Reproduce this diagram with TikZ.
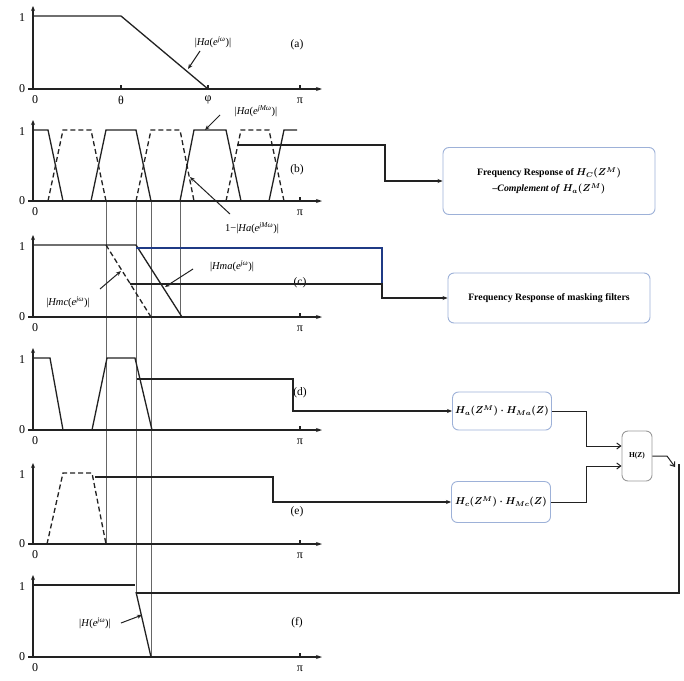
\documentclass[tikz,border=0pt]{standalone}
\usepackage{fontspec}
\setmainfont{Liberation Serif}
\usetikzlibrary{arrows.meta}
\definecolor{boxblue}{HTML}{9DB1D8}
\definecolor{lineblue}{HTML}{1F3A85}
\definecolor{ink}{HTML}{222222}
\begin{document}
\begin{tikzpicture}[x=1pt,y=-1pt,
  ax/.style={line width=1.2pt, draw=ink},
  curve/.style={line width=1.3pt, draw=ink},
  dcurve/.style={curve, dash pattern=on 5pt off 3pt},
  guide/.style={line width=0.5pt, draw=black!60},
  conn/.style={line width=1.5pt, draw=ink},
  ptr/.style={line width=1pt, draw=ink, -{Stealth[length=5pt,width=4pt]}},
  lbl/.style={font=\fontsize{10.5}{12}\selectfont, inner sep=0pt},
  tick/.style={font=\fontsize{12}{13}\selectfont, inner sep=0pt},
  plbl/.style={font=\fontsize{11.5}{13}\selectfont, inner sep=0pt},
  box/.style={draw=boxblue, line width=0.9pt, rounded corners=6pt, align=center,
    font=\bfseries\boldmath\fontsize{9.8}{12}\selectfont, inner sep=2pt},
  arr/.style={conn, -{Stealth[length=5pt,width=4pt]}},
  oarr/.style={line width=1pt, draw=ink, -{Straight Barb[length=4pt,width=6pt]}}
]
\useasboundingbox[fill=white] (0,0) rectangle (684,680);

% guide lines
\draw[guide] (106,201) -- (106,544);
\draw[guide] (136,201) -- (136,593);
\draw[guide] (151,201) -- (151,657);
\draw[guide] (180,201) -- (180,317);

% axes
\foreach \z/\o [count=\i] in {89/16,201/130,317/245,430/358,544/473,657/585}{
  \draw[ax,-{Stealth[length=5pt,width=4pt]}] (33,\z) -- (33,\o-10);
  \draw[ax,-{Stealth[length=6pt,width=4pt]}] (28,\z) -- (322,\z);
  \draw[ax] (300,\z) -- (300,\z-4);
  \node[tick] (yzero\i) at (22,\z) {0};
  \node[tick] (yone\i) at (22,\o+2) {1};
  \node[tick] (xzero\i) at (35,\z+11) {0};
  \node[tick] (xpi\i) at (300,\z+12) {π};
}

% panel (a)
\draw[ax] (121,89) -- (121,85);
\draw[ax] (208,89) -- (208,85);
\node[tick] (theta) at (121,100) {θ};
\node[tick] (phi) at (208,100) {φ};
\draw[curve] (33,16) -- (121,16) -- (208,89);
\node[lbl] (la) at (213,42) {|\textit{Ha}(\textit{e}\textsuperscript{\textit{jω}})|};
\coordinate (pas) at (200,51);
\coordinate (pa) at (188,69);
\draw[ptr] (pas) -- (pa);
\node[plbl] (pla) at (297,45) {(a)};

% panel (b)
\draw[curve] (33,130) -- (48,130) -- (63,201);
\draw[curve] (91,201) -- (106,130) -- (136,130) -- (151,201);
\draw[curve] (180,201) -- (194,130) -- (226,130) -- (241,201);
\draw[curve] (269,201) -- (284,130) -- (297,130);
\draw[dcurve] (48,201) -- (63,130) -- (91,130) -- (106,201);
\draw[dcurve] (136,201) -- (151,130) -- (180,130) -- (194,201);
\draw[dcurve] (226,201) -- (241,130) -- (269,130) -- (284,201);
\node[lbl] (lb1) at (256,111) {|\textit{Ha}(\textit{e}\textsuperscript{\textit{jMω}})|};
\coordinate (pb1s) at (220,115);
\coordinate (pb1) at (205,130);
\draw[ptr] (pb1s) -- (pb1);
\node[lbl] (lb2) at (252,228) {1−|\textit{Ha}(\textit{e}\textsuperscript{\textit{jMω}})|};
\coordinate (pb2s) at (230,214);
\coordinate (pb2) at (190,177);
\draw[ptr] (pb2s) -- (pb2);
\node[plbl] (plb) at (297,170) {(b)};

% panel (c)
\draw[curve] (33,245) -- (136,245) -- (182,317);
\draw[dcurve] (106,245) -- (151,317);
\node[lbl] (lc1) at (232,266) {|\textit{Hma}(\textit{e}\textsuperscript{\textit{jω}})|};
\coordinate (pc1s) at (193,269);
\coordinate (pc1) at (165,287);
\node[lbl] (lc2) at (68,302) {|\textit{Hmc}(\textit{e}\textsuperscript{\textit{jω}})|};
\coordinate (pc2s) at (100,289);
\coordinate (pc2) at (121,271);
\node[plbl] (plc) at (300,283) {(c)};

% panel (d)
\draw[curve] (33,358) -- (50,358) -- (63,430);
\draw[curve] (92,430) -- (107,358) -- (135,358) -- (152,430);
\node[plbl] (pld) at (300,393) {(d)};

% panel (e)
\draw[dcurve] (47,544) -- (63,473) -- (92,473) -- (106,544);
\node[plbl] (ple) at (297,512) {(e)};

% panel (f)
\draw[curve] (33,585) -- (135,585);
\draw[curve] (136,592) -- (151,657);
\node[lbl] (lf) at (95,623) {|\textit{H}(\textit{e}\textsuperscript{\textit{jω}})|};
\coordinate (pfs) at (121,623);
\coordinate (pf) at (142,615);
\node[plbl] (plf) at (297,623) {(f)};

% boxes
\node[box, minimum width=212pt, minimum height=67pt] (b1) at (549,181)
  {Frequency Response of $H_C(Z^M)$\\[4pt] \textit{–Complement of} $H_a(Z^M)$};
\node[box, minimum width=202pt, minimum height=50pt] (b2) at (549,298)
  {Frequency Response of masking filters};
\node[box, minimum width=99pt, minimum height=38pt] (bd) at (502,411)
  {$H_a(Z^M)\cdot H_{Ma}(Z)$};
\node[box, minimum width=99pt, minimum height=41pt] (be) at (501,502)
  {$H_c(Z^M)\cdot H_{Mc}(Z)$};
\node[box, draw=black!40, minimum width=30pt, minimum height=50pt, inner sep=0pt,
  font=\bfseries\fontsize{7.5}{9}\selectfont] (hz) at (637,456) {H(Z)};

% connectors
\coordinate (sb) at (237,145);
\draw[arr] (sb) -- (385,145) |- (b1.west);
\coordinate (sc) at (136,248);
\draw[line width=1.3pt, draw=lineblue] (sc) -- (382,248) -- (382,284);
\coordinate (sc2) at (130,284);
\draw[arr] (sc2) -- (382,284) |- (b2.west);
\draw[ptr] (pc1s) -- (pc1);
\draw[ptr] (pc2s) -- (pc2);
\coordinate (sd) at (137,379);
\draw[arr] (sd) -- (293,379) |- (bd.west);
\coordinate (se) at (95,477);
\draw[arr] (se) -- (273,477) |- (be.west);
\draw[ptr] (pfs) -- (pf);
\draw[oarr] (bd.east) -- ++(35,0) |- ([yshift=10pt]hz.west);
\draw[oarr] (be.east) -- ++(36,0) |- ([yshift=-10pt]hz.west);
\coordinate (ho) at (667,456);
\draw[oarr] (hz.east) -- (ho) -- (675,467);
\coordinate (sf) at (136,593);
\draw[conn] (679,464) -- (679,593) -- (sf);
\end{tikzpicture}
\end{document}
